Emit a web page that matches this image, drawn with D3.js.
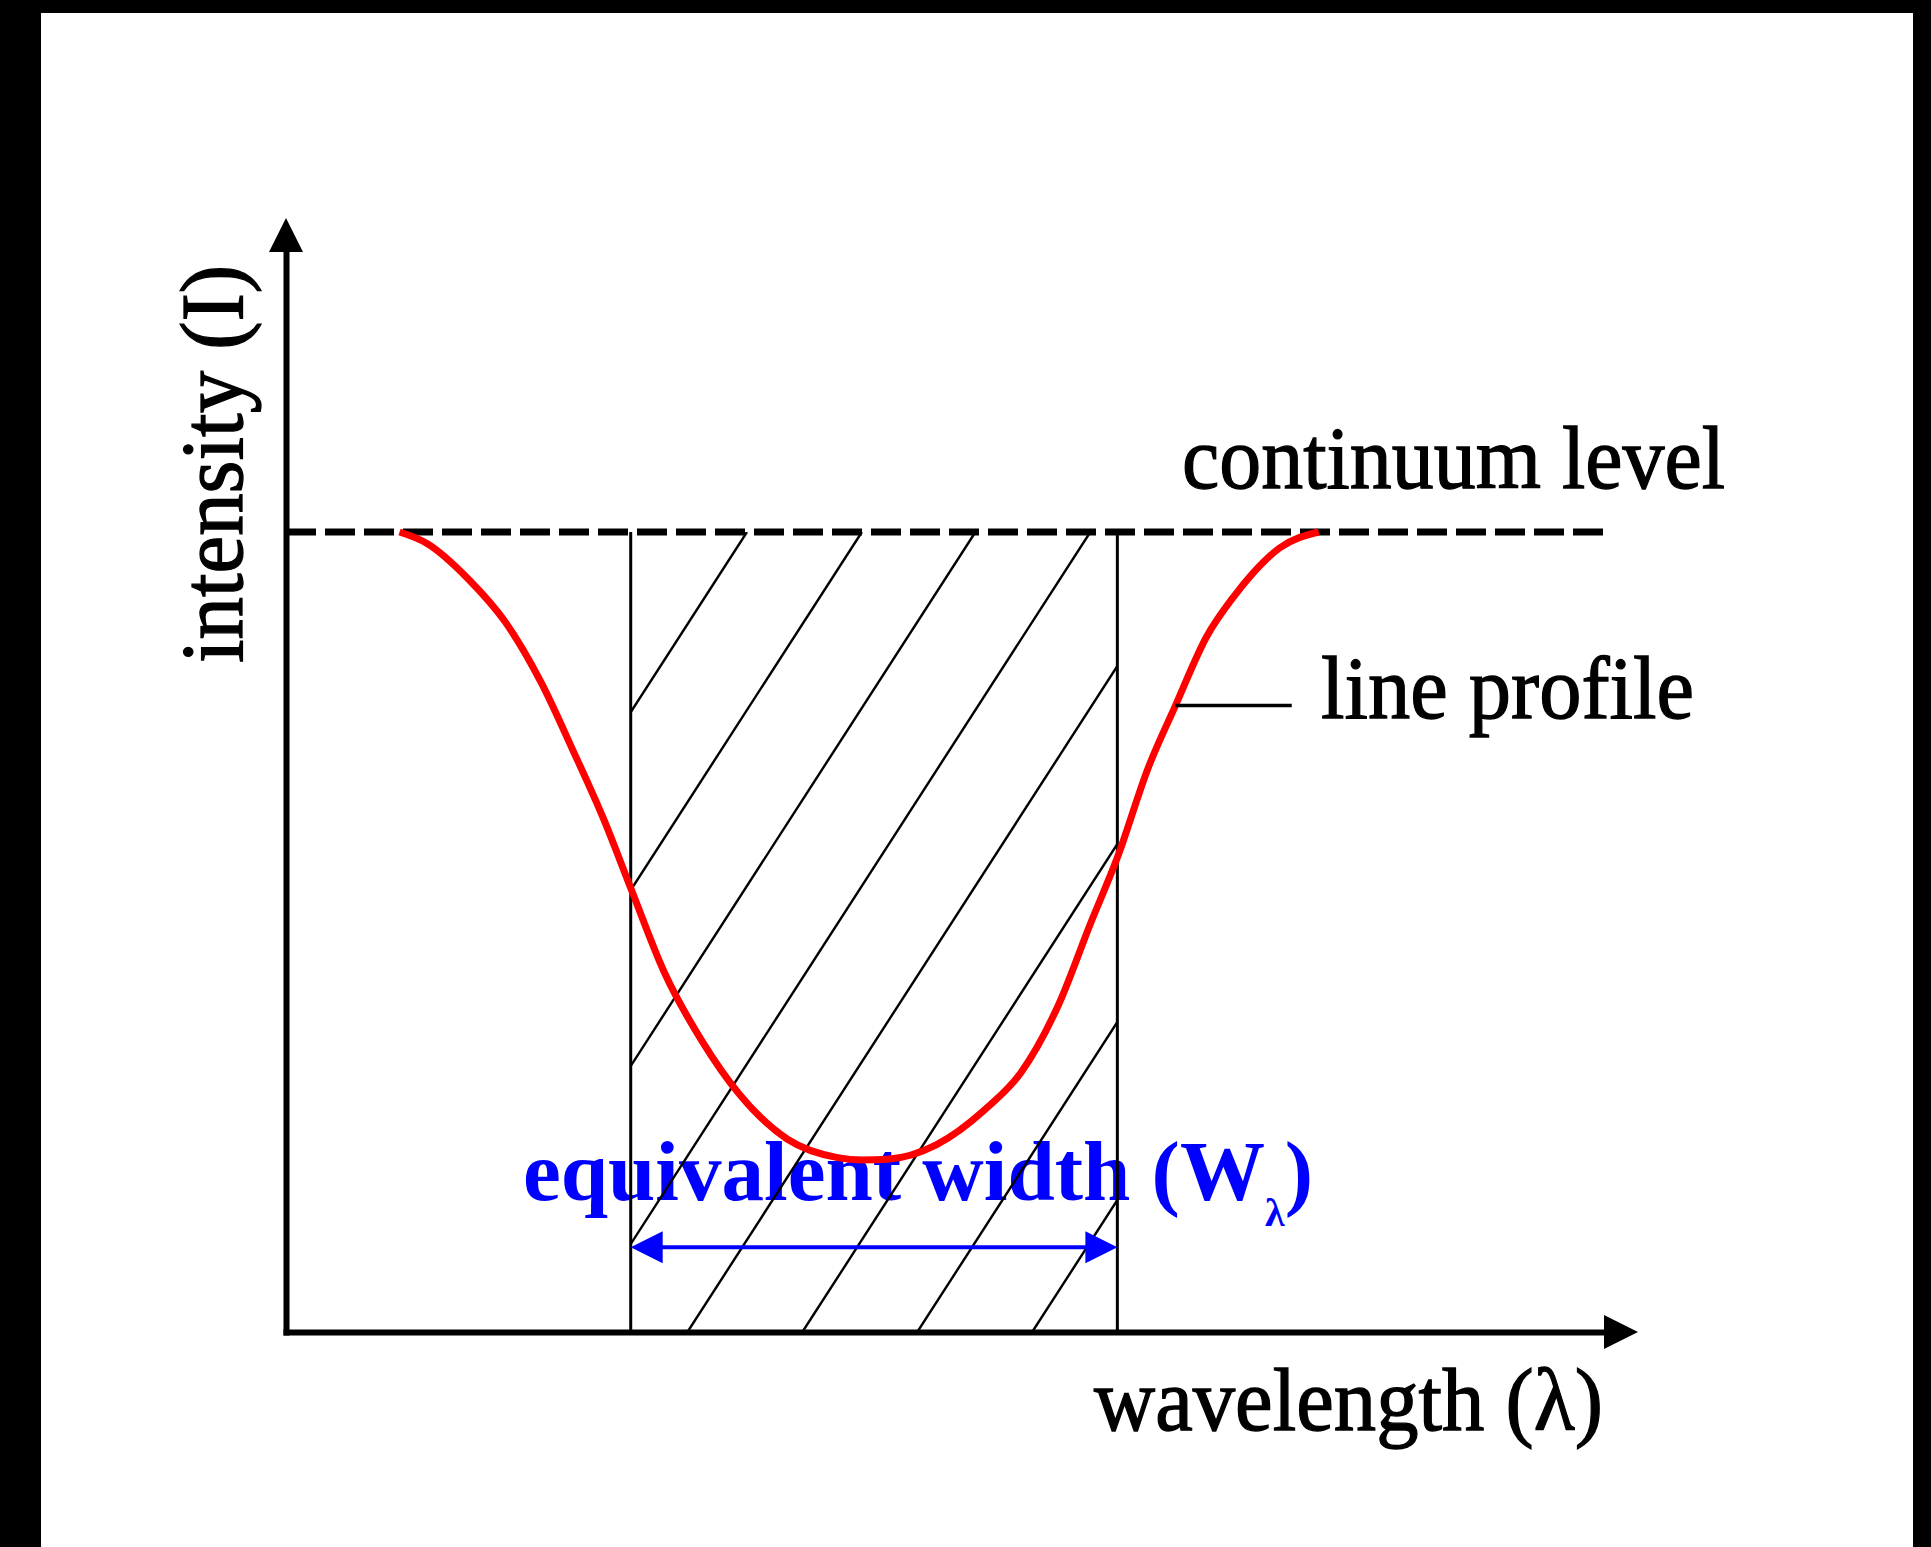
<!DOCTYPE html>
<html>
<head>
<meta charset="utf-8">
<script src="https://cdn.jsdelivr.net/npm/d3@7"></script>
<style>
  html, body { margin: 0; padding: 0; background: #000; }
  svg { display: block; }
  text { font-family: "Liberation Serif", "Times New Roman", serif; }
</style>
</head>
<body>
<svg id="chart" width="1931" height="1547"></svg>
<script>
// Absorption line profile: wavelength in arbitrary units,
// intensity normalised to the continuum (continuum = 1).
const profileLambda = [8.4, 10.4, 13.5, 16.2, 18.9, 21.2, 23.5, 25.5, 28.0, 30.8,
  33.5, 37.1, 40.8, 42.6, 44.5, 48.1, 51.7, 54.4, 57.2, 59.5,
  61.5, 63.8, 65.8, 68.1, 70.1, 71.5, 73.5, 76.4];
const profileIntensity = [1.000, 0.986, 0.941, 0.888, 0.811, 0.728, 0.641, 0.555, 0.449, 0.363,
  0.298, 0.241, 0.218, 0.215, 0.216, 0.234, 0.278, 0.325, 0.411, 0.510,
  0.593, 0.706, 0.783, 0.869, 0.919, 0.948, 0.980, 1.000];

const continuumLevel = 1;
const lambdaMax = 97.5;      // end of the wavelength axis
const intensityMax = 1.35;   // end of the intensity axis

// Rectangle of equal area: its two wavelength edges
const ewBounds = [25.5, 61.5];
const ewArrowLevel = 0.106;

// Hatching of the rectangle: where each stroke meets zero intensity,
// and how far in wavelength a stroke travels up to the continuum
const hatchBase = [-4.1, 4.4, 12.8, 21.3, 29.7, 38.2, 46.7, 55.2];
const hatchRun = 38.2;

// "line profile" pointer: starts on the profile, runs to the right
const pointerFrom = [65.8, 0.783];
const pointerTo = 74.4;

// Text
const xLabel = "wavelength (\u03bb)";
const yLabel = "intensity (I)";
const continuumLabel = "continuum level";
const profileLabel = "line profile";
const ewLabel = "equivalent width (W";
const ewSub = "\u03bb";

const svg = d3.select("#chart");
const W = 1931, H = 1547;

const x = d3.scaleLinear().domain([0, lambdaMax]).range([286, 1604]);
const y = d3.scaleLinear().domain([0, intensityMax]).range([1332, 252]);

// page frame
svg.append("rect").attr("width", W).attr("height", H).attr("fill", "#000");
svg.append("rect").attr("x", 41).attr("y", 13).attr("width", 1872).attr("height", H - 13).attr("fill", "#fff");

// equivalent width caption (hatching runs over it)
const ewText = svg.append("text")
  .attr("x", 523).attr("y", 1200)
  .attr("fill", "#0000ff")
  .attr("font-weight", "bold")
  .attr("font-size", 85);
ewText.append("tspan").attr("textLength", 742).attr("lengthAdjust", "spacingAndGlyphs").text(ewLabel);
ewText.append("tspan").attr("font-size", 40).attr("dy", 26).text(ewSub);
ewText.append("tspan").attr("font-size", 85).attr("dy", -26).text(")");

// hatched rectangle
svg.append("clipPath").attr("id", "ew-clip")
  .append("rect")
  .attr("x", x(ewBounds[0])).attr("y", y(continuumLevel))
  .attr("width", x(ewBounds[1]) - x(ewBounds[0]))
  .attr("height", y(0) - y(continuumLevel));

svg.append("g").attr("clip-path", "url(#ew-clip)")
  .selectAll("line").data(hatchBase).join("line")
  .attr("x1", d => x(d)).attr("y1", y(0))
  .attr("x2", d => x(d + hatchRun)).attr("y2", y(continuumLevel))
  .attr("stroke", "#000").attr("stroke-width", 2.4);

svg.append("g").selectAll("line").data(ewBounds).join("line")
  .attr("x1", d => x(d)).attr("x2", d => x(d))
  .attr("y1", y(continuumLevel)).attr("y2", y(0))
  .attr("stroke", "#000").attr("stroke-width", 3);

// continuum level
svg.append("line")
  .attr("x1", x(0)).attr("x2", x(lambdaMax))
  .attr("y1", y(continuumLevel)).attr("y2", y(continuumLevel))
  .attr("stroke", "#000").attr("stroke-width", 7)
  .attr("stroke-dasharray", "30 9");

// line profile
const profile = profileLambda.map((l, i) => [l, profileIntensity[i]]);
svg.append("path")
  .datum(profile)
  .attr("fill", "none")
  .attr("stroke", "#ff0000")
  .attr("stroke-width", 7)
  .attr("stroke-linejoin", "round")
  .attr("d", d3.line().x(d => x(d[0])).y(d => y(d[1])).curve(d3.curveMonotoneX));

// pointer to the profile
svg.append("line")
  .attr("x1", x(pointerFrom[0])).attr("x2", x(pointerTo))
  .attr("y1", y(pointerFrom[1])).attr("y2", y(pointerFrom[1]))
  .attr("stroke", "#000").attr("stroke-width", 3.5);

// double arrow spanning the equivalent width
const ay = y(ewArrowLevel);
const headL = 32, headW = 16;
svg.append("line")
  .attr("x1", x(ewBounds[0]) + headL - 2).attr("x2", x(ewBounds[1]) - headL + 2)
  .attr("y1", ay).attr("y2", ay)
  .attr("stroke", "#0000ff").attr("stroke-width", 4);
svg.append("g").selectAll("path").data(ewBounds).join("path")
  .attr("fill", "#0000ff")
  .attr("d", (d, i) => {
    const tip = x(d), dir = i === 0 ? 1 : -1;
    return `M${tip},${ay}L${tip + dir * headL},${ay - headW}L${tip + dir * headL},${ay + headW}Z`;
  });

// axes without ticks, finished with arrowheads
const xAxis = svg.append("g").attr("transform", `translate(0,${y(0)})`)
  .call(d3.axisBottom(x).tickValues([]).tickSizeOuter(0));
const yAxis = svg.append("g").attr("transform", `translate(${x(0)},0)`)
  .call(d3.axisLeft(y).tickValues([]).tickSizeOuter(0));
[xAxis, yAxis].forEach(g => g.select(".domain")
  .attr("stroke", "#000").attr("stroke-width", 6).attr("stroke-linecap", "square"));

const axHead = 34, axHalf = 17;
svg.append("path").attr("fill", "#000")
  .attr("d", `M${x(lambdaMax) + axHead},${y(0)}L${x(lambdaMax)},${y(0) - axHalf}L${x(lambdaMax)},${y(0) + axHalf}Z`);
svg.append("path").attr("fill", "#000")
  .attr("d", `M${x(0)},${y(intensityMax) - axHead}L${x(0) - axHalf},${y(intensityMax)}L${x(0) + axHalf},${y(intensityMax)}Z`);

// labels: slightly heavy, narrow serif lettering
const labelStyle = (sel, len) => sel
  .attr("fill", "#000").attr("stroke", "#000").attr("stroke-width", 1.3)
  .attr("font-size", 89)
  .attr("textLength", len).attr("lengthAdjust", "spacingAndGlyphs");

svg.append("text").call(labelStyle, 509)
  .attr("x", 1094).attr("y", 1430).text(xLabel);

svg.append("text").call(labelStyle, 398)
  .attr("transform", "translate(242,663) rotate(-90)")
  .text(yLabel);

svg.append("text").call(labelStyle, 543)
  .attr("x", 1182).attr("y", 488).text(continuumLabel);

svg.append("text").call(labelStyle, 373)
  .attr("x", 1321).attr("y", 718).text(profileLabel);
</script>
</body>
</html>
